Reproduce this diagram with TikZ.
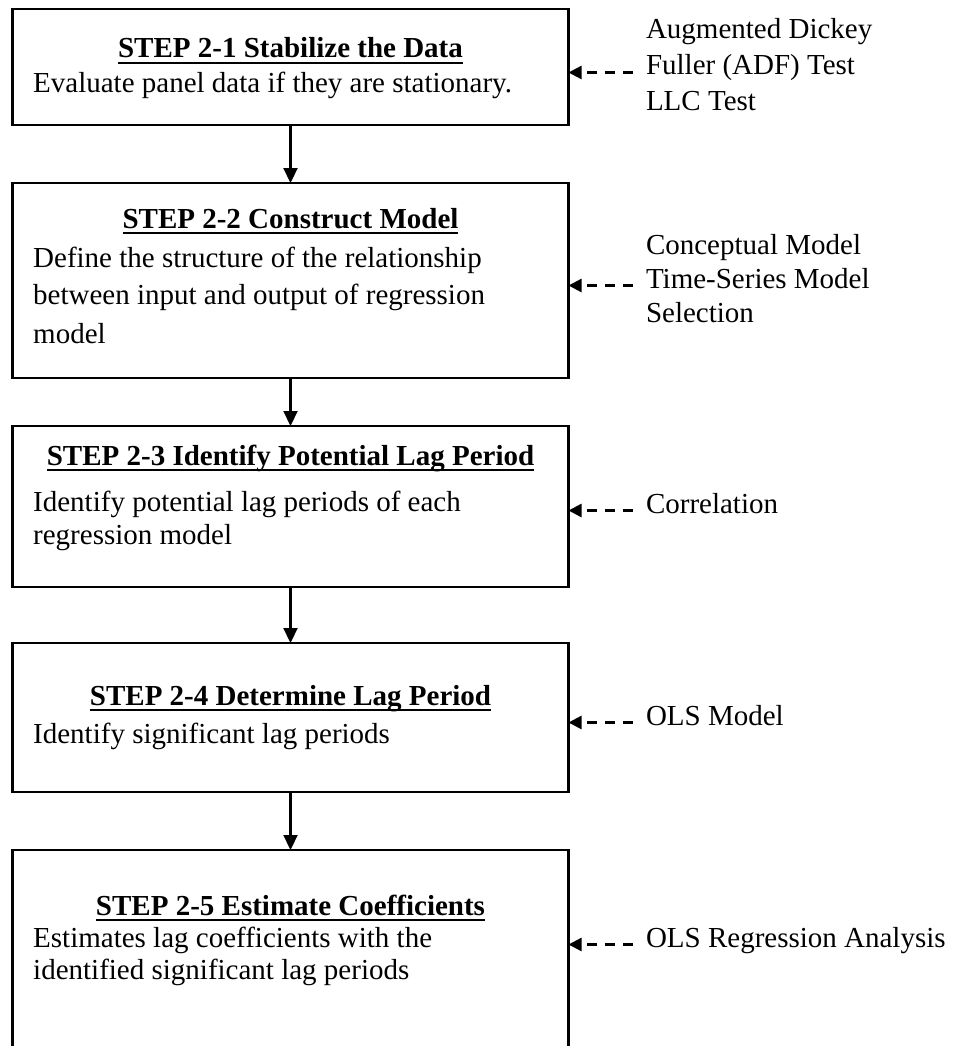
\documentclass[tikz,border=0pt]{standalone}
\usepackage{fontspec}
\setmainfont{Liberation Serif}
\usetikzlibrary{arrows.meta}

% bold heading with a Word-style underline at a fixed depth
\newsavebox\ulbox
\newcommand\headul[1]{\sbox\ulbox{#1}\rlap{\rule[-6pt]{\wd\ulbox}{2.2pt}}\usebox\ulbox}

\tikzset{
  stepbox/.style={draw, line width=2.5pt, minimum width=556pt, inner sep=0pt, outer sep=0pt},
  headtext/.style={font=\fontsize{29}{35}\bfseries, anchor=base, inner sep=0pt},
  bodytext/.style={font=\fontsize{29}{35}\selectfont, anchor=base west, inner sep=0pt},
  % method labels: the anchor sits 13pt left of the text, where the dashed line starts
  tooltext/.style={font=\fontsize{29}{35}\selectfont, anchor=base west, inner sep=0pt,
                   text height=0.7em, text depth=0.2em, outer xsep=13pt},
  flow/.style={line width=2.2pt, -{Triangle[length=15pt,width=14pt]}},
  feed/.style={line width=2.4pt, dash pattern=on 10pt off 8pt, -{Triangle[length=13pt,width=13pt]}}
}

\begin{document}
\begin{tikzpicture}[x=1pt, y=-1pt]
\useasboundingbox (0,0) rectangle (953,1046);

% ---- step boxes ----
\node[stepbox, minimum height=116pt] (b1) at (290.5,67) {};
\node[stepbox, minimum height=195pt] (b2) at (290.5,280.5) {};
\node[stepbox, minimum height=161pt] (b3) at (290.5,506.5) {};
\node[stepbox, minimum height=149pt] (b4) at (290.5,717.5) {};
\node[stepbox, minimum height=206pt] (b5) at (290.5,953) {};

% ---- step 2-1 ----
\node[headtext] (h1) at (290.5,58) {\headul{STEP 2-1 Stabilize the Data}};
\node[bodytext] (t1a) at (33,93) {Evaluate panel data if they are stationary.};

% ---- step 2-2 ----
\node[headtext] (h2) at (290.5,228) {\headul{STEP 2-2 Construct Model}};
\node[bodytext] (t2a) at (33,267) {Define the structure of the relationship};
\node[bodytext] (t2b) at (33,304) {between input and output of regression};
\node[bodytext] (t2c) at (33,343) {model};

% ---- step 2-3 ----
\node[headtext] (h3) at (290.5,465) {\headul{STEP 2-3 Identify Potential Lag Period}};
\node[bodytext] (t3a) at (33,511) {Identify potential lag periods of each};
\node[bodytext] (t3b) at (33,544) {regression model};

% ---- step 2-4 ----
\node[headtext] (h4) at (290.5,705) {\headul{STEP 2-4 Determine Lag Period}};
\node[bodytext] (t4a) at (33,743) {Identify significant lag periods};

% ---- step 2-5 ----
\node[headtext] (h5) at (290.5,915) {\headul{STEP 2-5 Estimate Coefficients}};
\node[bodytext] (t5a) at (33,947) {Estimates lag coefficients with the};
\node[bodytext] (t5b) at (33,979) {identified significant lag periods};

% ---- methods on the right ----
\node[tooltext] (m1a) at (633,39) {Augmented Dickey};
\node[tooltext] (m1b) at (633,75) {Fuller (ADF) Test};
\node[tooltext] (m1c) at (633,111) {LLC Test};

\node[tooltext] (m2a) at (633,254) {Conceptual Model};
\node[tooltext] (m2b) at (633,288) {Time-Series Model};
\node[tooltext] (m2c) at (633,322) {Selection};

\node[tooltext] (m3) at (633,513) {Correlation};
\node[tooltext] (m4) at (633,725) {OLS Model};
\node[tooltext] (m5) at (633,947) {OLS Regression Analysis};

% ---- flow between steps ----
\draw[flow] (b1.south) -- (b2.north);
\draw[flow] (b2.south) -- (b3.north);
\draw[flow] (b3.south) -- (b4.north);
\draw[flow] (b4.south) -- (b5.north);

% ---- methods feeding each step ----
\draw[feed] (m1b.west) -- (m1b.west -| b1.east);
\draw[feed] (m2b.west) -- (m2b.west -| b2.east);
\draw[feed] (m3.west) -- (m3.west -| b3.east);
\draw[feed] (m4.west) -- (m4.west -| b4.east);
\draw[feed] (m5.west) -- (m5.west -| b5.east);
\end{tikzpicture}
\end{document}
